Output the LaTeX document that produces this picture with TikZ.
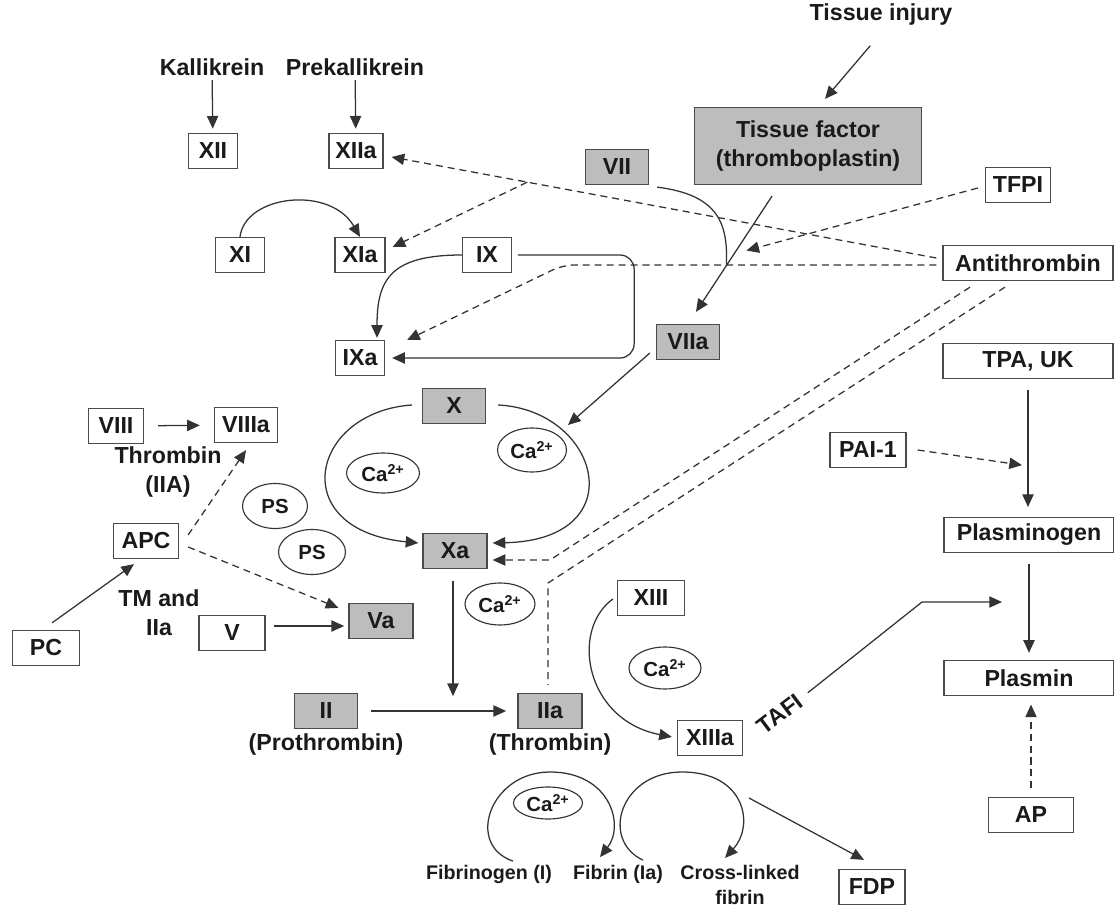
\documentclass[tikz,border=0pt]{standalone}
\usepackage{fontspec}
\setmainfont{Liberation Sans}
\usepackage{xcolor}
\usetikzlibrary{shapes.geometric, arrows.meta, positioning, calc}
\definecolor{linecol}{HTML}{333333}
\definecolor{edgecol}{HTML}{4A4A4A}
\definecolor{textcol}{HTML}{1A1A1A}
\definecolor{factorgray}{HTML}{BDBDBD}

\begin{document}
\begin{tikzpicture}[
    x=0.025cm, y=-0.025cm,
    every node/.style={font=\bfseries\fontsize{16.5}{20.5}\selectfont, text=textcol},
    box/.style={rectangle, draw=edgecol, line width=0.9pt, fill=white, inner sep=1pt,
                minimum height=0.875cm, minimum width=#1*0.025cm, text centered},
    box/.default=50,
    graybox/.style={box=#1, fill=factorgray},
    graybox/.default=63,
    oval/.style args={#1/#2}{ellipse, draw=linecol, line width=0.8pt, inner sep=0pt,
                minimum width=#1*0.025cm, minimum height=#2*0.025cm,
                font=\bfseries\fontsize{14.5}{17}\selectfont},
    lbl/.style={inner sep=1pt},
    smalllbl/.style={inner sep=1pt, font=\bfseries\fontsize{14}{17.5}\selectfont},
    arr/.style={-{Triangle[length=9pt, width=8pt]}, line width=0.9pt, draw=linecol},
    dasharr/.style={arr, dash pattern=on 5pt off 3.5pt},
    dashln/.style={line width=0.9pt, draw=linecol, dash pattern=on 5pt off 3.5pt},
    plainln/.style={line width=0.9pt, draw=linecol},
]
\useasboundingbox (0,0) rectangle (1114,906);

% Contact pathway
\node[lbl] (kal) at (212,67) {Kallikrein};
\node[lbl] (prek) at (355,67) {Prekallikrein};
\node[box=49] (fxii) at (213,151) {XII};
\node[box=54] (fxiia) at (356,151) {XIIa};
\node[box=49] (fxi) at (240,255) {XI};
\node[box=50] (fxia) at (360,255) {XIa};
\node[box=49] (fix) at (487,255) {IX};
\node[box=49] (fixa) at (360,358) {IXa};

% Tissue factor pathway
\node[lbl, anchor=base] (injury) at (881,21) {Tissue injury};
\node[graybox=227, minimum height=77*0.025cm, align=center] (tf) at (808,146)
    {Tissue factor\\(thromboplastin)};
\node[graybox=63] (fvii) at (617,167) {VII};
\node[graybox=63] (fviia) at (688,342) {VIIa};
\node[box=65] (tfpi) at (1018,185) {TFPI};
\node[box=170] (anti) at (1028,263) {Antithrombin};

% Common pathway
\node[graybox=63] (fx) at (454,406) {X};
\node[graybox=64] (fxa) at (455,551) {Xa};
\node[oval=73/40] (ca1) at (383,473) {Ca\textsuperscript{2+}};
\node[oval=69/44] (ca2) at (532,450) {Ca\textsuperscript{2+}};
\node[oval=70/42] (ca3) at (500,604) {Ca\textsuperscript{2+}};
\node[graybox=63] (fii) at (326,711) {II};
\node[graybox=64] (fiia) at (550,711) {IIa};
\node[lbl, below=2pt of fii] (proth) {(Prothrombin)};
\node[lbl, below=2pt of fiia] (thromb) {(Thrombin)};

% Cofactors and protein C
\node[box=55] (fviii) at (116,426) {VIII};
\node[box=63] (fviiia) at (246,425) {VIIIa};
\node[lbl, align=center] (thrlbl) at (168,472) {Thrombin\\(IIA)};
\node[box=65] (apc) at (146,541) {APC};
\node[box=67] (pc) at (46,648) {PC};
\node[lbl, align=center] (tmlbl) at (159,613) {TM and\\IIa};
\node[box=66] (fv) at (232,633) {V};
\node[graybox=64] (fva) at (381,621) {Va};
\node[oval=65/45] (ps1) at (275,506) {PS};
\node[oval=67/45] (ps2) at (312,552) {PS};

% Fibrin formation
\node[box=67] (fxiii) at (651,598) {XIII};
\node[box=65] (fxiiia) at (710,738) {XIIIa};
\node[oval=72/42] (ca4) at (665,668) {Ca\textsuperscript{2+}};
\node[oval=69/32] (ca5) at (548,803) {Ca\textsuperscript{2+}};
\node[smalllbl] (fgen) at (489,874) {Fibrinogen (I)};
\node[smalllbl] (fib) at (618,874) {Fibrin (Ia)};
\node[smalllbl, align=center, anchor=north] (xlink) at (740,864) {Cross-linked\\fibrin};
\node[box=66] (fdp) at (872,887) {FDP};
\node[lbl, rotate=37] (tafi) at (780,714) {TAFI};

% Fibrinolysis
\node[box=170] (tpa) at (1028,361) {TPA, UK};
\node[box=76] (pai) at (868,450) {PAI-1};
\node[box=170] (plg) at (1029,535) {Plasminogen};
\node[box=170] (plasmin) at (1029,678) {Plasmin};
\node[box=85] (ap) at (1031,815) {AP};

% Arrows
\draw[arr, shorten <=2pt, shorten >=3pt] (kal) -- (fxii);
\draw[arr, shorten <=2pt, shorten >=3pt] (prek) -- (fxiia);
\draw[arr] (fxi.north) .. controls (245,195) and (330,185) .. (fxia.north);
\draw[arr] (fix.west) .. controls (390,255) and (377,280) .. ($(fixa.north)+(17,-2)$);
\draw[arr, rounded corners=10pt, shorten <=4pt, shorten >=5pt]
    (fix.east) -- ++(122,0) |- (fixa.east);

\draw[arr, shorten <=3pt] ($(injury.south)+(-8,15)$) -- ($(tf.north)+(17,-8)$);
\coordinate (tfstart) at ($(tf.south)+(-36,11)$);
\coordinate (tftip) at ($(fviia.north)+(8,-12)$);
\coordinate (vjoin) at ($(tfstart)!0.6!(tftip)$);
\draw[arr] (tfstart) -- (tftip);
\draw[plainln] ($(fvii.south east)+(8,2)$) .. controls (720,195) and (728,225) .. (vjoin);

\coordinate (xcyc) at (568,425);
\draw[arr] ($(fviia.west)+(-6,11)$) -- (xcyc);
\draw[arr] ($(fx.west)+(-10,-1)$) .. controls (310,412) and (285,530)
    .. ($(fxa.west)+(-4,-8)$);
\draw[arr] ($(fx.east)+(12,-1)$) .. controls (600,410) and (635,540)
    .. ($(fxa.east)+(5,-8)$);

\draw[arr, shorten <=10pt, shorten >=10pt] (fviii) -- (fviiia);
\draw[arr] ($(pc.north)+(6,-7)$) -- ($(apc.south)+(-12,5)$);
\draw[arr, shorten <=6pt, shorten >=3pt] ($(fv.east)+(0,-7)$) -- ($(fva.west)+(0,5)$);
\draw[dasharr] ($(apc.east)+(9,-6)$) -- ($(fviiia.south)+(0,7)$);
\draw[dasharr] ($(apc.east)+(9,6)$) -- ($(fva.north west)+(-10,5)$);

\coordinate (xaiia) at ($(fxa.south)+(-2,127)$);
\draw[arr] ($(fxa.south)+(-2,12)$) -- (xaiia);
\draw[arr, shorten <=9pt, shorten >=8pt] (fii) -- (fiia);

% Antithrombin and TFPI
\coordinate (atxii) at ($(anti.west)+(-6,-5)$);
\coordinate (xiitip) at ($(fxiia.east)+(8,6)$);
\draw[dasharr] (atxii) -- (xiitip);
\draw[dasharr] ($(atxii)!0.751!(xiitip)$) -- ($(fxia.east)+(7,-8)$);
\draw[dasharr, rounded corners=8pt] ($(anti.west)+(-6,2)$) -- (563,265)
    -- ($(fixa.east)+(22,-18)$);
\draw[dasharr] ($(anti.south)+(-58,6)$) -- (550,560) -- ($(fxa.east)+(5,9)$);
\draw[dashln] ($(anti.south)+(-23,6)$) -- (548,583) -- ($(fiia.north)+(-2,-8)$);
\draw[dasharr] ($(tfpi.west)+(-7,3)$) -- ($(vjoin)+(20,-15)$);

% Fibrin
\draw[arr] ($(fxiii.west)+(-4,1)$) .. controls (570,630) and (585,720)
    .. ($(fxiiia.west)+(-5,-1)$);
\draw[arr] ($(fgen.north)+(24,-2)$) .. controls (465,845) and (490,772) .. (550,772)
    .. controls (610,772) and (625,825) .. ($(fib.north)+(-18,-6)$);
\draw[arr] ($(fib.north)+(25,-3)$) .. controls (600,840) and (620,772) .. (682,772)
    .. controls (745,772) and (755,825) .. ($(xlink.north)+(-15,-6)$);
\coordinate (fdpstart) at (749,798);
\draw[arr] (fdpstart) -- ($(fdp.north)+(-8,-9)$);

% Fibrinolysis
\draw[arr, shorten <=8pt, shorten >=7pt] (tpa.south) -- (tpa.south |- plg.north);
\draw[dasharr] ($(pai.east)+(11,0)$) -- ($(tpa.south)+(-6,86)$);
\draw[arr, shorten <=8pt, shorten >=5pt] (plg.south) -- (plg.south |- plasmin.north);
\draw[dasharr, shorten <=6pt, shorten >=6pt] (ap.north) -- (ap.north |- plasmin.south);
\coordinate (tafitip) at (1002,602);
\draw[arr, shorten <=6pt] (tafi.east) -- (922,602) -- (tafitip);

\end{tikzpicture}
\end{document}
